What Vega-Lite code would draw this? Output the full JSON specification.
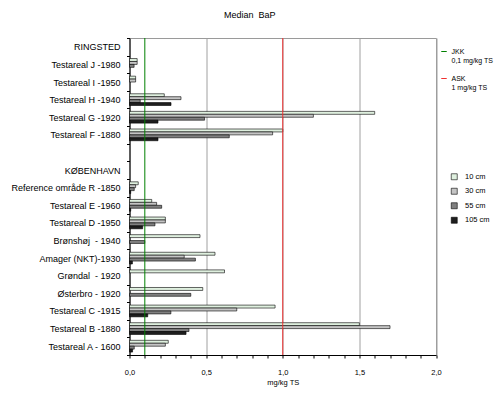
{
  "$schema": "https://vega.github.io/schema/vega-lite/v6.json",
  "width": 306.5,
  "height": 317,
  "autosize": {"type": "none"},
  "padding": {"left": 129.5, "top": 38, "right": 62, "bottom": 44},
  "background": "white",
  "title": {"text": "Median \u00a0BaP", "fontSize": 9, "font": "Liberation Sans", "fontWeight": "normal", "color": "black", "dx": -33, "offset": 14},
  "config": {"view": {"stroke": "#9a9a9a", "strokeWidth": 1}, "font": "Liberation Sans", "axis": {"labelOverlap": false}},
  "layer": [
    {
      "data": {"values": [
        {"site": "Testareal J -1980", "depth": "10 cm", "value": 0.05},
        {"site": "Testareal J -1980", "depth": "30 cm", "value": 0.05},
        {"site": "Testareal J -1980", "depth": "55 cm", "value": 0.03},
        {"site": "Testareal I -1950", "depth": "10 cm", "value": 0.04},
        {"site": "Testareal I -1950", "depth": "30 cm", "value": 0.04},
        {"site": "Testareal H -1940", "depth": "10 cm", "value": 0.227},
        {"site": "Testareal H -1940", "depth": "30 cm", "value": 0.336},
        {"site": "Testareal H -1940", "depth": "55 cm", "value": 0.07},
        {"site": "Testareal H -1940", "depth": "105 cm", "value": 0.271},
        {"site": "Testareal G -1920", "depth": "10 cm", "value": 1.6},
        {"site": "Testareal G -1920", "depth": "30 cm", "value": 1.2},
        {"site": "Testareal G -1920", "depth": "55 cm", "value": 0.49},
        {"site": "Testareal G -1920", "depth": "105 cm", "value": 0.186},
        {"site": "Testareal F -1880", "depth": "10 cm", "value": 1.0},
        {"site": "Testareal F -1880", "depth": "30 cm", "value": 0.934},
        {"site": "Testareal F -1880", "depth": "55 cm", "value": 0.651},
        {"site": "Testareal F -1880", "depth": "105 cm", "value": 0.186},
        {"site": "Reference område R -1850", "depth": "10 cm", "value": 0.057},
        {"site": "Reference område R -1850", "depth": "30 cm", "value": 0.04},
        {"site": "Reference område R -1850", "depth": "55 cm", "value": 0.031},
        {"site": "Reference område R -1850", "depth": "105 cm", "value": 0.008},
        {"site": "Testareal E -1960", "depth": "10 cm", "value": 0.145},
        {"site": "Testareal E -1960", "depth": "30 cm", "value": 0.177},
        {"site": "Testareal E -1960", "depth": "55 cm", "value": 0.21},
        {"site": "Testareal E -1960", "depth": "105 cm", "value": 0.008},
        {"site": "Testareal D -1950", "depth": "10 cm", "value": 0.234},
        {"site": "Testareal D -1950", "depth": "30 cm", "value": 0.234},
        {"site": "Testareal D -1950", "depth": "55 cm", "value": 0.166},
        {"site": "Testareal D -1950", "depth": "105 cm", "value": 0.086},
        {"site": "Brønshøj \u00a0- 1940", "depth": "10 cm", "value": 0.46},
        {"site": "Brønshøj \u00a0- 1940", "depth": "55 cm", "value": 0.1},
        {"site": "Amager (NKT)-1930", "depth": "10 cm", "value": 0.558},
        {"site": "Amager (NKT)-1930", "depth": "30 cm", "value": 0.357},
        {"site": "Amager (NKT)-1930", "depth": "55 cm", "value": 0.43},
        {"site": "Amager (NKT)-1930", "depth": "105 cm", "value": 0.019},
        {"site": "Grøndal \u00a0- 1920", "depth": "10 cm", "value": 0.62},
        {"site": "Østerbro - 1920", "depth": "10 cm", "value": 0.478},
        {"site": "Østerbro - 1920", "depth": "55 cm", "value": 0.4},
        {"site": "Testareal C -1915", "depth": "10 cm", "value": 0.95},
        {"site": "Testareal C -1915", "depth": "30 cm", "value": 0.7},
        {"site": "Testareal C -1915", "depth": "55 cm", "value": 0.27},
        {"site": "Testareal C -1915", "depth": "105 cm", "value": 0.119},
        {"site": "Testareal B -1880", "depth": "10 cm", "value": 1.5},
        {"site": "Testareal B -1880", "depth": "30 cm", "value": 1.7},
        {"site": "Testareal B -1880", "depth": "55 cm", "value": 0.388},
        {"site": "Testareal B -1880", "depth": "105 cm", "value": 0.369},
        {"site": "Testareal A - 1600", "depth": "10 cm", "value": 0.253},
        {"site": "Testareal A - 1600", "depth": "30 cm", "value": 0.234},
        {"site": "Testareal A - 1600", "depth": "55 cm", "value": 0.031},
        {"site": "Testareal A - 1600", "depth": "105 cm", "value": 0.02}
      ]},
      "mark": {"type": "bar", "stroke": "black", "strokeWidth": 0.6},
      "encoding": {
        "y": {
          "field": "site", "type": "nominal", "title": null,
          "scale": {"domain": ["RINGSTED", "Testareal J -1980", "Testareal I -1950", "Testareal H -1940", "Testareal G -1920", "Testareal F -1880", " ", "KØBENHAVN", "Reference område R -1850", "Testareal E -1960", "Testareal D -1950", "Brønshøj \u00a0- 1940", "Amager (NKT)-1930", "Grøndal \u00a0- 1920", "Østerbro - 1920", "Testareal C -1915", "Testareal B -1880", "Testareal A - 1600"], "paddingInner": 0, "paddingOuter": 0},
          "axis": {"tickBand": "extent", "tickSize": 3, "tickColor": "black", "domainColor": "black", "labelColor": "black", "labelFontSize": 9, "labelPadding": 6.5, "labelLimit": 200, "grid": false}
        },
        "x": {
          "field": "value", "type": "quantitative",
          "scale": {"domain": [0, 2], "nice": false},
          "axis": {
            "values": [0, 0.1, 0.2, 0.3, 0.4, 0.5, 0.6, 0.7, 0.8, 0.9, 1, 1.1, 1.2, 1.3, 1.4, 1.5, 1.6, 1.7, 1.8, 1.9, 2],
            "tickCount": 100,
            "title": "mg/kg TS", "titleFontSize": 7.5, "titleFontWeight": "normal", "titleColor": "black", "titlePadding": 3,
            "labelFontSize": 7.5, "labelColor": "black", "labelPadding": 10, "labelFlush": false, "labelOverlap": false, "labelBound": false,
            "labelExpr": "indexof(['0.0','0.5','1.0','1.5','2.0'], format(datum.value, '.1f')) >= 0 ? replace(format(datum.value, '.1f'), '.', ',') : ''",
            "tickSize": 3, "tickColor": "black", "domainColor": "black",
            "grid": true, "gridColor": "#a0a0a0",
            "gridOpacity": {"condition": {"test": "indexof(['0.0','0.5','1.0','1.5','2.0'], format(datum.value, '.1f')) >= 0", "value": 1}, "value": 0}
          }
        },
        "yOffset": {"field": "depth", "type": "nominal", "sort": ["10 cm", "30 cm", "55 cm", "105 cm"], "scale": {"domain": ["10 cm", "30 cm", "55 cm", "105 cm"], "paddingInner": 0, "paddingOuter": 1.14}},
        "fill": {
          "field": "depth", "type": "nominal",
          "scale": {"domain": ["10 cm", "30 cm", "55 cm", "105 cm"], "range": ["#dff0df", "#c4c4c4", "#808080", "#1e1e1e"]},
          "legend": {"orient": "none", "legendX": 321, "legendY": 135, "title": null, "symbolType": "square", "symbolSize": 36, "symbolStrokeColor": "black", "symbolStrokeWidth": 0.6, "labelFontSize": 7.5, "labelColor": "black", "rowPadding": 5.5, "labelOffset": 7}
        }
      }
    },
    {
      "data": {"values": [{"ref": "JKK", "x": 0.1}, {"ref": "ASK", "x": 1.0}]},
      "mark": {"type": "rule", "strokeWidth": 1},
      "encoding": {
        "x": {"field": "x", "type": "quantitative"},
        "stroke": {
          "field": "ref", "type": "nominal",
          "scale": {"domain": ["JKK", "ASK"], "range": ["#008000", "#f03030"]},
          "legend": {"orient": "none", "legendX": 311, "legendY": 10, "title": null, "symbolType": "stroke", "symbolSize": 30, "symbolStrokeWidth": 1, "labelFontSize": 7, "labelColor": "black", "labelOffset": 4, "rowPadding": 10, "labelLimit": 100,
            "labelExpr": "datum.label == 'JKK' ? ['JKK', '0,1 mg/kg TS'] : ['ASK', '1 mg/kg TS']"}
        }
      }
    }
  ]
}
